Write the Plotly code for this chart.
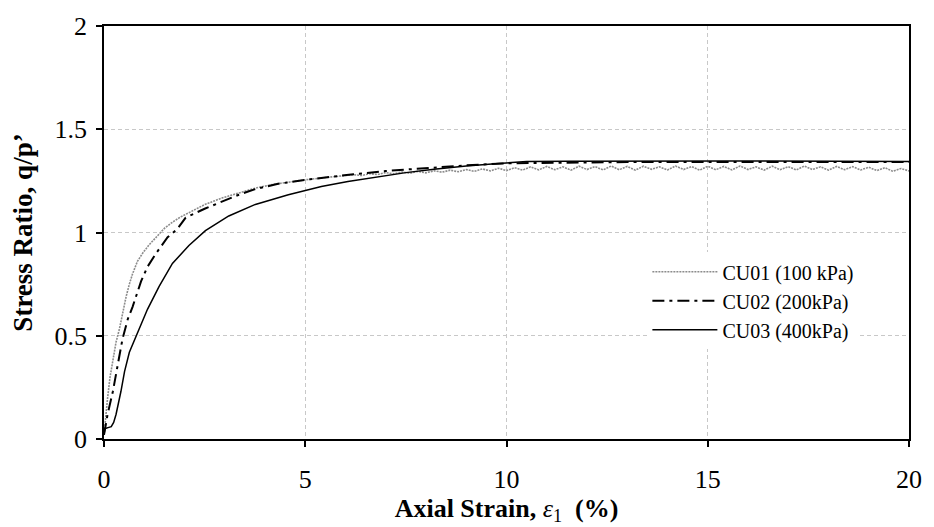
import plotly.graph_objects as go

# ---- data ----
cu01_x = [0.0, 0.02, 0.05, 0.09, 0.15, 0.22, 0.30, 0.38, 0.46, 0.55, 0.63, 0.71, 0.83, 0.96, 1.12, 1.29, 1.50, 1.70, 1.90, 2.11,
          2.50, 2.93, 3.35, 3.76, 4.20, 4.60, 4.99, 5.50,
          6.0, 6.2, 6.4, 6.6, 6.8, 7.0, 7.2, 7.4, 7.6, 7.8, 8.0, 8.2, 8.4, 8.6, 8.8, 9.0, 9.2, 9.4, 9.6, 9.8,
          10.0, 10.2, 10.4, 10.6, 10.8, 11.0, 11.2, 11.4, 11.6, 11.8, 12.0, 12.2, 12.4, 12.6, 12.8,
          13.0, 13.2, 13.4, 13.6, 13.8, 14.0, 14.2, 14.4, 14.6, 14.8, 15.0, 15.2, 15.4, 15.6, 15.8,
          16.0, 16.2, 16.4, 16.6, 16.8, 17.0, 17.2, 17.4, 17.6, 17.8, 18.0, 18.2, 18.4, 18.6, 18.8,
          19.0, 19.2, 19.4, 19.6, 19.8, 20.0]
cu01_y = [0.02, 0.07, 0.12, 0.20, 0.30, 0.39, 0.47, 0.53, 0.61, 0.69, 0.75, 0.80, 0.86, 0.90, 0.94, 0.977, 1.02, 1.05, 1.075, 1.096,
          1.135, 1.167, 1.193, 1.215, 1.233, 1.245, 1.255, 1.266,
          1.274, 1.280, 1.276, 1.285, 1.281, 1.290, 1.284, 1.293, 1.287, 1.296, 1.289, 1.299, 1.292, 1.302, 1.294, 1.305, 1.296, 1.308, 1.298, 1.311,
          1.300, 1.314, 1.302, 1.318, 1.303, 1.320, 1.304, 1.318, 1.302, 1.321, 1.305, 1.319, 1.303, 1.322, 1.304,
          1.320, 1.302, 1.321, 1.306, 1.318, 1.303, 1.322, 1.305, 1.319, 1.302, 1.321, 1.304, 1.320, 1.303, 1.322,
          1.305, 1.318, 1.302, 1.321, 1.304, 1.319, 1.303, 1.322, 1.305, 1.318, 1.302, 1.320, 1.304, 1.319, 1.303,
          1.316, 1.300, 1.314, 1.296, 1.310, 1.298]

cu02_x = [0.0, 0.03, 0.09, 0.22, 0.34, 0.46, 0.59, 0.71, 0.92, 1.08, 1.29, 1.58, 1.82, 2.03, 2.50, 2.93, 3.35, 3.76, 4.30, 5.00,
          5.60, 6.20, 7.00, 8.00, 9.00, 10.00, 11.00, 12.00, 13.00, 14.00, 15.00, 16.00, 17.00, 18.00, 19.00, 20.00]
cu02_y = [0.02, 0.05, 0.12, 0.23, 0.36, 0.485, 0.58, 0.64, 0.763, 0.834, 0.898, 0.977, 1.017, 1.072, 1.115, 1.150, 1.183, 1.210, 1.235, 1.255,
          1.270, 1.282, 1.298, 1.312, 1.325, 1.335, 1.338, 1.340, 1.341, 1.342, 1.342, 1.343, 1.343, 1.343, 1.343, 1.342]

cu03_x = [0.0, 0.02, 0.10, 0.18, 0.24, 0.30, 0.42, 0.51, 0.63, 0.83, 1.08, 1.37, 1.70, 2.11, 2.52, 3.10, 3.76, 4.58, 5.40, 6.06,
          6.80, 7.50, 8.20, 9.00, 9.80, 10.50, 11.50, 12.50, 13.50, 14.50, 15.50, 16.50, 17.50, 18.50, 19.50, 20.00]
cu03_y = [0.02, 0.05, 0.055, 0.06, 0.08, 0.12, 0.23, 0.326, 0.42, 0.51, 0.628, 0.739, 0.85, 0.937, 1.009, 1.08, 1.136, 1.183, 1.223, 1.247,
          1.270, 1.290, 1.306, 1.322, 1.334, 1.344, 1.345, 1.346, 1.346, 1.346, 1.346, 1.346, 1.346, 1.346, 1.345, 1.344]

names = ["CU01 (100 kPa)", "CU02 (200kPa)", "CU03 (400kPa)"]

x_ticks = [0, 5, 10, 15, 20]
y_ticks = [0, 0.5, 1, 1.5, 2]
y_tick_text = ["0", "0.5", "1", "1.5", "2"]

FONT = "Liberation Serif"

fig = go.Figure()
fig.add_trace(go.Scatter(x=cu01_x, y=cu01_y, mode="lines", name=names[0],
                         line=dict(color="#8c8c8c", width=1.6, dash="2px,1px")))
fig.add_trace(go.Scatter(x=cu02_x, y=cu02_y, mode="lines", name=names[1],
                         line=dict(color="black", width=2, dash="12px,5px,3px,5px")))
fig.add_trace(go.Scatter(x=cu03_x, y=cu03_y, mode="lines", name=names[2],
                         line=dict(color="black", width=1.5)))

axis_common = dict(
    showline=True, linecolor="black", linewidth=1.5, mirror=True,
    ticks="outside", ticklen=6, tickcolor="black", tickwidth=1.5,
    showgrid=True, gridcolor="#c8c8c8", gridwidth=1, griddash="4px,3px",
    zeroline=False,
    tickfont=dict(family=FONT, size=26, color="black"),
)

fig.update_layout(
    width=934, height=527,
    margin=dict(l=104, r=20, t=18, b=88),
    paper_bgcolor="white", plot_bgcolor="white",
    font=dict(family=FONT, color="black"),
    xaxis=dict(range=[0, 20], tickvals=x_ticks, ticklabelstandoff=10, **axis_common,
               title=dict(text="<b>Axial Strain, </b><i>ε</i><sub>1</sub><b>  (%)</b>",
                          font=dict(family=FONT, size=26, color="black"), standoff=2)),
    yaxis=dict(range=[0, 2], tickvals=y_ticks, ticktext=y_tick_text, ticklabelstandoff=4, **axis_common,
               title=dict(text="<b>Stress Ratio, q/p’</b>",
                          font=dict(family=FONT, size=27, color="black"), standoff=14)),
    legend=dict(x=0.675, y=0.452, xanchor="left", yanchor="top",
                bgcolor="white", borderwidth=0,
                font=dict(family=FONT, size=20, color="black"),
                itemwidth=65),
    showlegend=True,
)

fig.write_html("out.html")
